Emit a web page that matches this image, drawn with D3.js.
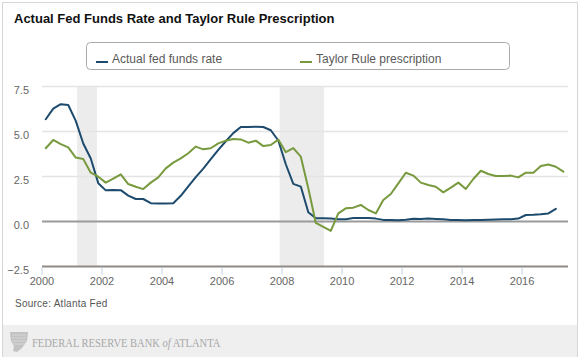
<!DOCTYPE html>
<html>
<head>
<meta charset="utf-8">
<script src="https://cdn.jsdelivr.net/npm/d3@7/dist/d3.min.js"></script>
<style>
  html, body { margin: 0; padding: 0; background: #fff; }
  svg { display: block; font-family: Arial, "Liberation Sans", sans-serif; }
</style>
</head>
<body>
<svg id="chart" width="586" height="357"></svg>
<script>
// ---- Data (quarterly, 2000Q1 onward) ----
const actualFedFunds = [
  5.68, 6.27, 6.52, 6.47,  5.59, 4.33, 3.50, 2.13,  1.73, 1.75, 1.74, 1.44,
  1.25, 1.25, 1.02, 1.00,  1.00, 1.01, 1.43, 1.95,  2.47, 2.94, 3.46, 3.98,
  4.46, 4.91, 5.25, 5.25,  5.26, 5.25, 5.07, 4.50,  3.18, 2.09, 1.94, 0.51,
  0.18, 0.18, 0.16, 0.12,  0.13, 0.19, 0.19, 0.19,  0.16, 0.09, 0.08, 0.07,
  0.10, 0.15, 0.14, 0.16,  0.14, 0.12, 0.08, 0.09,  0.07, 0.09, 0.09, 0.10,
  0.11, 0.12, 0.13, 0.16,  0.36, 0.37, 0.40, 0.45,  0.70
];
const taylorRule = [
  4.07, 4.53, 4.30, 4.12,  3.55, 3.47, 2.71, 2.49,  2.16, 2.38, 2.62, 2.08,
  1.93, 1.80, 2.16, 2.45,  2.95, 3.27, 3.51, 3.79,  4.16, 4.01, 4.07, 4.34,
  4.49, 4.58, 4.56, 4.38,  4.49, 4.19, 4.25, 4.55,  3.85, 4.08, 3.60, 1.85,
  -0.08, -0.30, -0.52, 0.45,  0.73, 0.77, 0.92, 0.64,  0.45, 1.19, 1.53, 2.12,
  2.71, 2.55, 2.16, 2.03,  1.93, 1.62, 1.88, 2.16,  1.81, 2.36, 2.82, 2.64,
  2.53, 2.53, 2.55, 2.45,  2.71, 2.71, 3.08, 3.17,  3.04, 2.77
];
// quarter mid-points as decimal years
const quarterTimes = d3.range(taylorRule.length).map(i => 2000 + i * 0.25 + 0.125);
const recessions = [[2001.17, 2001.83], [2007.92, 2009.40]];
const xTicks = [2000, 2002, 2004, 2006, 2008, 2010, 2012, 2014, 2016];
const yTicks = [-2.5, 0, 2.5, 5.0, 7.5];
const seriesNames = ["Actual fed funds rate", "Taylor Rule prescription"];
const seriesColors = ["#1d4b6e", "#789a3e"];

const svg = d3.select("#chart");

// frame
svg.append("rect").attr("x", 2.5).attr("y", 2.5).attr("width", 575).attr("height", 360)
  .attr("fill", "#fff").attr("stroke", "#d6d6d6");

// title
svg.append("text").attr("x", 14).attr("y", 23)
  .attr("font-size", 13).attr("font-weight", "bold").attr("fill", "#111")
  .text("Actual Fed Funds Rate and Taylor Rule Prescription");

// scales
const x = d3.scaleLinear().domain([2000, 2017.53]).range([42, 568]);
const y = d3.scaleLinear().domain([-2.5, 7.5]).range([266.5, 86.5]);

// recession shading
svg.append("g").selectAll("rect").data(recessions).join("rect")
  .attr("x", d => x(d[0])).attr("width", d => x(d[1]) - x(d[0]))
  .attr("y", y(7.5)).attr("height", y(-2.5) - y(7.5))
  .attr("fill", "#ececec");

// grid lines
svg.append("g").selectAll("line").data(yTicks.filter(v => v > 0)).join("line")
  .attr("x1", x.range()[0]).attr("x2", x.range()[1])
  .attr("y1", d => y(d)).attr("y2", d => y(d))
  .attr("stroke", "#e4e4e4").attr("stroke-width", 1.5);

// zero line
svg.append("line").attr("x1", x.range()[0]).attr("x2", x.range()[1])
  .attr("y1", y(0)).attr("y2", y(0)).attr("stroke", "#9a9a9a").attr("stroke-width", 2);

// bottom axis line
svg.append("line").attr("x1", x.range()[0]).attr("x2", x.range()[1])
  .attr("y1", y(-2.5)).attr("y2", y(-2.5)).attr("stroke", "#8f8a86").attr("stroke-width", 2);

// x ticks + labels
const xg = svg.append("g");
xg.selectAll("line").data(xTicks).join("line")
  .attr("x1", d => x(d)).attr("x2", d => x(d))
  .attr("y1", y(-2.5) + 1).attr("y2", y(-2.5) + 8)
  .attr("stroke", "#c0d0e0").attr("stroke-width", 1);
xg.selectAll("text").data(xTicks).join("text")
  .attr("x", d => x(d)).attr("y", 285)
  .attr("text-anchor", "middle").attr("font-size", 11).attr("fill", "#666")
  .text(d => d);

// y labels
svg.append("g").selectAll("text").data(yTicks).join("text")
  .attr("x", 29).attr("y", d => y(d) + 7)
  .attr("text-anchor", "end").attr("font-size", 11).attr("fill", "#666")
  .text(d => d3.format(".1f")(d));

// lines
const line = d3.line().x(d => x(d[0])).y(d => y(d[1]));
const seriesData = [actualFedFunds, taylorRule];
seriesData.forEach((vals, si) => {
  svg.append("path")
    .datum(vals.map((v, i) => [quarterTimes[i], v]))
    .attr("d", line).attr("fill", "none")
    .attr("stroke", seriesColors[si]).attr("stroke-width", 2)
    .attr("stroke-linejoin", "round").attr("stroke-linecap", "round");
});

// legend
const lg = svg.append("g");
lg.append("rect").attr("x", 86.5).attr("y", 42.5).attr("width", 423).attr("height", 27).attr("rx", 4)
  .attr("fill", "#fff").attr("stroke", "#aaa");
const legendX = [96, 300];
seriesNames.forEach((name, i) => {
  lg.append("line").attr("x1", legendX[i]).attr("x2", legendX[i] + 12)
    .attr("y1", 62).attr("y2", 62).attr("stroke", seriesColors[i]).attr("stroke-width", 2);
  lg.append("text").attr("x", legendX[i] + 16).attr("y", 63)
    .attr("font-size", 12).attr("fill", "#5a5a5a").text(name);
});

// source
svg.append("text").attr("x", 15).attr("y", 307)
  .attr("font-size", 10).attr("letter-spacing", 0.25).attr("fill", "#555")
  .text("Source: Atlanta Fed");

// footer band
svg.append("rect").attr("x", 3).attr("y", 325).attr("width", 574).attr("height", 32).attr("fill", "#efefef");
// logo icon (shield-like)
svg.append("path")
  .attr("d", "M10,332 L28,332 L27,341 L22,348 L17,352 L13,351 L14,346 L11,341 Z")
  .attr("fill", "#c2c2c2");
svg.append("g").selectAll("line").data([335, 338, 341, 344]).join("line")
  .attr("x1", 12).attr("x2", 26).attr("y1", d => d).attr("y2", d => d)
  .attr("stroke", "#dedede").attr("stroke-width", 0.8);
const ft = svg.append("text").attr("transform", "translate(32,347) scale(0.81,1)")
  .attr("font-family", "'Liberation Serif', 'DejaVu Serif', serif")
  .attr("font-size", 13).attr("fill", "#a8a8a8");
ft.append("tspan").text("FEDERAL RESERVE BANK ");
ft.append("tspan").attr("font-style", "italic").text("of");
ft.append("tspan").text(" ATLANTA");
</script>
</body>
</html>
